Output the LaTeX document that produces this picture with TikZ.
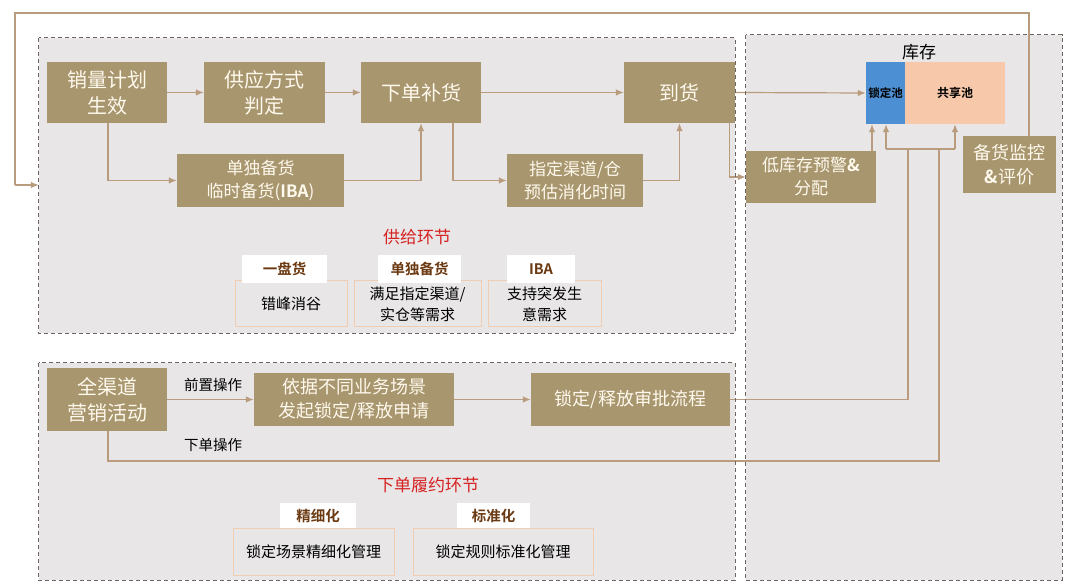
\documentclass[tikz,border=0pt]{standalone}
\usepackage{fontspec}
\setmainfont{Noto Sans CJK SC}[BoldFont={Noto Sans CJK SC Bold}]
\usetikzlibrary{arrows.meta}
\definecolor{tanfill}{HTML}{A8966E}
\definecolor{cream}{HTML}{FFF9EE}
\definecolor{grpfill}{HTML}{E8E6E6}
\definecolor{grpline}{HTML}{6E6560}
\definecolor{linktan}{HTML}{B99C7E}
\definecolor{peach}{HTML}{F0CCB0}
\definecolor{tabbrown}{HTML}{6B3A12}
\definecolor{redtitle}{HTML}{D62222}
\definecolor{lockblue}{HTML}{4C8FD3}
\definecolor{sharepeach}{HTML}{F7C9AA}
\tikzset{
  grpbox/.style={fill=grpfill, draw=none, inner sep=0pt},
  grpborder/.style={draw=grpline, line width=0.8pt, dash pattern=on 4pt off 3pt},
  tanbox/.style={fill=tanfill, text=cream, inner sep=0pt, align=center, font=\fontsize{20}{26}\selectfont},
  midbox/.style={tanbox, font=\fontsize{17}{23}\selectfont},
  subbox/.style={fill=grpfill, draw=peach, line width=1pt, inner sep=0pt, align=center, text=black, font=\fontsize{15}{21}\selectfont},
  tabbox/.style={fill=white, inner sep=0pt, text=tabbrown, font=\bfseries\fontsize{14.5}{17}\selectfont},
  title/.style={text=redtitle, inner sep=0pt, font=\fontsize{17}{20}\selectfont},
  lbl/.style={text=black, inner sep=0pt, font=\fontsize{14.5}{17}\selectfont},
  link/.style={draw=linktan, line width=1.2pt},
  arr/.style={link, -{Latex[length=8pt,width=6.5pt]}},
}
\begin{document}
\begin{tikzpicture}[x=1pt,y=-1pt]
\useasboundingbox[fill=white] (0,0) rectangle (1080,588);
% group backgrounds
\node[grpbox, minimum width=696pt, minimum height=295pt] (supbox) at (387,185.5) {};
\node[grpbox, minimum width=316pt, minimum height=545pt] (invbox) at (904,307.5) {};
\node[grpbox, minimum width=696pt, minimum height=217pt] (fulbox) at (387,471.5) {};
% supply nodes
\node[tanbox, minimum width=120pt, minimum height=61pt] (plan) at (107,92.5) {销量计划\\生效};
\node[tanbox, minimum width=121pt, minimum height=61pt] (mode) at (264.5,92.5) {供应方式\\判定};
\node[tanbox, minimum width=120pt, minimum height=61pt] (order) at (421,92.5) {下单补货};
\node[tanbox, minimum width=111pt, minimum height=61pt] (arrive) at (679.5,92.5) {到货};
\node[midbox, minimum width=167pt, minimum height=53pt] (iba) at (260.5,180.5) {单独备货\\临时备货(\textbf{IBA})};
\node[midbox, minimum width=136pt, minimum height=53pt] (chan) at (575,180.5) {指定渠道/仓\\预估消化时间};
% inventory nodes
\node[midbox, minimum width=130pt, minimum height=52pt] (low) at (811,177) {低库存预警\textbf{\&}\\分配};
\node[midbox, minimum width=93pt, minimum height=57pt, font=\fontsize{18}{24}\selectfont] (mon) at (1009.5,164.5) {备货监控\\\textbf{\&}评价};
\node[fill=lockblue, inner sep=0pt, minimum width=39pt, minimum height=62pt, font=\bfseries\fontsize{11.5}{14}\selectfont] (lock) at (885.5,93) {锁定池};
\node[fill=sharepeach, inner sep=0pt, minimum width=100pt, minimum height=62pt, font=\bfseries\fontsize{12}{14}\selectfont] (share) at (955,93) {共享池};
\node[inner sep=0pt, font=\fontsize{17}{20}\selectfont] (stock) at (919,52) {库存};
% fulfilment nodes
\node[tanbox, minimum width=120pt, minimum height=63pt] (mkt) at (107,399.5) {全渠道\\营销活动};
\node[midbox, minimum width=200pt, minimum height=53pt, font=\fontsize{18}{24}\selectfont] (req) at (354,399.5) {依据不同业务场景\\发起锁定/释放申请};
\node[midbox, minimum width=199pt, minimum height=53pt, font=\fontsize{18}{24}\selectfont] (appr) at (630.5,399.5) {锁定/释放审批流程};
% titles and labels
\node[title] (suptitle) at (417,237) {供给环节};
\node[title] (fultitle) at (428,485) {下单履约环节};
\node[lbl] (pre) at (213,385) {前置操作};
\node[lbl] (ord) at (213,445) {下单操作};
% sub boxes
\node[subbox, minimum width=112pt, minimum height=46pt] (s1) at (291,304) {错峰消谷};
\node[subbox, minimum width=127pt, minimum height=46pt] (s2) at (417.5,304) {满足指定渠道/\\实仓等需求};
\node[subbox, minimum width=113pt, minimum height=46pt] (s3) at (544.5,304) {支持突发生\\意需求};
\node[tabbox, minimum width=85pt, minimum height=28pt] (t1) at (284.5,269) {一盘货};
\node[tabbox, minimum width=83pt, minimum height=28pt] (t2) at (419.5,269) {单独备货};
\node[tabbox, minimum width=68pt, minimum height=28pt] (t3) at (541,269) {IBA};
\node[subbox, minimum width=161pt, minimum height=47pt] (f1) at (313.5,551.5) {锁定场景精细化管理};
\node[subbox, minimum width=180pt, minimum height=47pt] (f2) at (503,551.5) {锁定规则标准化管理};
\node[tabbox, minimum width=76pt, minimum height=25pt] (u1) at (318,515.5) {精细化};
\node[tabbox, minimum width=73pt, minimum height=25pt] (u2) at (493.5,515.5) {标准化};
% junction coordinates
\coordinate (j1) at (886,149);
\coordinate (j2) at (955,149);
\coordinate (j3) at (908,149);
\coordinate (j4) at (939,149);
\coordinate (loopL) at (15,13);
\coordinate (loopB) at (15,185);
% connectors: supply
\draw[arr] (plan) -- (mode);
\draw[arr] (mode) -- (order);
\draw[arr] (order) -- (arrive);
\draw[arr] (arrive.east) -- (lock.west);
\draw[arr] ([xshift=1pt]plan.south) |- (iba.west);
\draw[arr] (iba.east) -| (order.south);
\draw[arr] ([xshift=32pt]order.south) |- (chan.west);
\draw[arr] (chan.east) -| (arrive.south);
\draw[arr] ([xshift=50pt]arrive.south) |- (low.west);
% connectors: inventory
\draw[arr] ([xshift=61pt]low.north) -- ([xshift=61pt]low.north |- lock.south);
\draw[arr] (j1) -- (j1 |- lock.south);
\draw[arr] (j2) -- (j2 |- share.south);
\draw[link] (j1) -- (j2);
\draw[link] ([xshift=19.5pt]mon.north) |- (loopL) -- (loopB);
\draw[arr] (loopB) -- (loopB -| supbox.west);
% connectors: fulfilment
\draw[arr] (mkt.east) -- (req.west);
\draw[arr] (req.east) -- (appr.west);
\draw[link] (appr.east) -| (j3);
\draw[link] ([xshift=1pt]mkt.south) |- (939,461) -- (j4);
% group borders on top
\draw[grpborder] (supbox.north west) rectangle (supbox.south east);
\draw[grpborder] (invbox.north west) rectangle (invbox.south east);
\draw[grpborder] (fulbox.north west) rectangle (fulbox.south east);
\end{tikzpicture}
\end{document}
